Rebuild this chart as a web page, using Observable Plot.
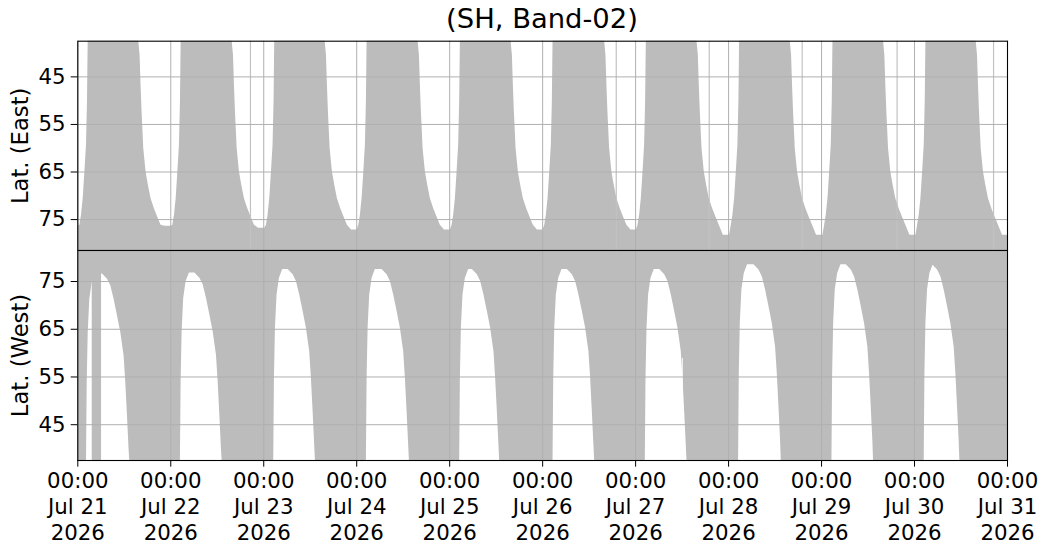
<!DOCTYPE html>
<html>
<head>
<meta charset="utf-8">
<script src="https://cdn.jsdelivr.net/npm/d3@7"></script>
<script src="https://cdn.jsdelivr.net/npm/@observablehq/plot@0.6"></script>
<style>
  body { margin: 0; background: #fff; font-family: "DejaVu Sans", sans-serif; }
  #wrap { position: relative; width: 1049px; height: 556px; overflow: hidden; }
  #title { position: absolute; left: 77px; width: 930px; top: 2.5px; text-align: center;
           font-size: 27.4px; line-height: 32px; color: #000; }
  #wrap svg { position: absolute; left: 0; overflow: visible; background: transparent; }
</style>
</head>
<body>
<div id="wrap"><div id="title">(SH, Band-02)</div></div>
<script>
// ---------------- data (hours since 2026-07-21 00:00 UTC, latitudes in degrees) ----------------
const startDay = "2026-07-21T00:00:00Z";
const latDomain = [37.5, 81.5];
const latTicks = [45, 55, 65, 75];
const dayTicks = ["2026-07-21","2026-07-22","2026-07-23","2026-07-24","2026-07-25","2026-07-26",
                  "2026-07-27","2026-07-28","2026-07-29","2026-07-30","2026-07-31"];
const xTickLabels = ["00:00\nJul 21\n2026","00:00\nJul 22\n2026","00:00\nJul 23\n2026","00:00\nJul 24\n2026",
                     "00:00\nJul 25\n2026","00:00\nJul 26\n2026","00:00\nJul 27\n2026","00:00\nJul 28\n2026",
                     "00:00\nJul 29\n2026","00:00\nJul 30\n2026","00:00\nJul 31\n2026"];

// East panel: full-coverage windows and the coverage edge in between
const eastFingerStart = [2.68, 26.68, 50.84, 74.68, 98.76, 122.68, 146.76, 170.84, 194.94, 218.94];
const eastFingerEnd   = [15.74, 39.85, 63.85, 87.85, 111.85, 136.0, 159.85, 183.92, 208.0, 231.92];
const eastDipMin      = [76.4, 76.4, 76.8, 77.2, 77.2, 77.2, 77.2, 78.3, 78.3, 78.3, 78.3];
const eastFallDt      = [0.34, 0.59, 0.85, 1.29, 1.88, 2.48, 3.17, 4.03, 4.90, 5.75, 6.8];
const eastFallLat     = [40.5, 46.8, 52.4, 60.1, 65.0, 67.8, 70.6, 72.7, 74.5, 76.2, 99];
const eastRiseDt      = [-2.58, -2.14, -1.73, -1.29, -0.85, -0.44, -0.18, 0];
const eastRiseLat     = [99, 76.2, 74.1, 70.6, 65.0, 59.4, 50.3, 37.5];
const eastSpikes      = [44.57, 139.0, 163.0, 187.0, 211.5, 236.4];

// West panel: gaps ("arches") in coverage
const westArchStart = [2.25, 26.49, 50.58, 74.5, 98.58, 122.68, 146.5, 170.58, 194.68, 218.5];
const westArchEnd   = [13.42, 37.26, 61.34, 85.6, 108.9, 133.42, 157.26, 181.6, 205.42, 227.7];
const westArchTop   = [76.6, 76.8, 77.5, 77.5, 77.5, 77.5, 77.5, 78.5, 78.5, 78.5];
const westRiseDt    = [0, 0.18, 0.44, 0.85, 1.47, 2.32];
const westRiseDrop  = [44, 22.8, 12.3, 5.3, 1.8, 0];
const westFallDt    = [-7.05, -5.75, -4.9, -4.05, -3.17, -2.32, -1.47, -1.03, -0.59, -0.18, 0];
const westFallDrop  = [0, 1.1, 2.5, 5.3, 8.8, 12.3, 17.2, 22.8, 29.9, 36.9, 44];
const westFullBlock = [[3.72, 6.13]];
const westGapLine   = [[156.06, 58.9]];

// ---------------- build tables ----------------
(function () {
const t0 = Date.parse(startDay);
const toDate = h => new Date(t0 + h * 3600000);
const H = 240;
const lo = latDomain[0], hi = latDomain[1];

const east = [];
east.push([0, eastDipMin[0]]);
eastFingerStart.forEach((s, i) => {
  const m = eastDipMin[i];
  eastRiseDt.forEach((d, j) => {
    const t = s + d;
    if (t >= 0) east.push([t, Math.min(eastRiseLat[j], m)]);
  });
  const e = eastFingerEnd[i], m2 = eastDipMin[i + 1];
  east.push([e, lo]);
  eastFallDt.forEach((d, j) => {
    const t = e + d;
    if (t <= H) east.push([t, Math.min(eastFallLat[j], m2)]);
  });
});
east.push([H, eastDipMin[eastDipMin.length - 1]]);

const west = [];
west.push([0, lo]);
westArchStart.forEach((s, i) => {
  const tp = westArchTop[i], e = westArchEnd[i];
  west.push([s, lo]);
  westRiseDt.forEach((d, j) => west.push([s + d, Math.max(lo, tp - westRiseDrop[j])]));
  westFallDt.forEach((d, j) => west.push([e + d, Math.max(lo, tp - westFallDrop[j])]));
  west.push([e, lo]);
});
west.push([H, lo]);

const dayDates = dayTicks.map(d => new Date(d + "T00:00:00Z"));
const fmtX = d => xTickLabels[dayDates.findIndex(v => +v === +d)];

const FILL = "#bcbcbc";
const GRID = "#b0b0b0";
const FS = 21.3;
const FSL = 22.7;
const common = {
  width: 1049,
  marginLeft: 77.3,
  marginRight: 42,
  style: { fontFamily: "DejaVu Sans", fontSize: FS + "px", background: "transparent", overflow: "visible", color: "#000" },
  x: { type: "utc", domain: [toDate(0), toDate(H)], axis: null }
};

const topPlot = Plot.plot({
  ...common,
  height: 250,
  marginTop: 40.7,
  marginBottom: 0,
  y: { domain: latDomain, reverse: true, axis: null },
  marks: [
    Plot.areaY(east, { x: d => toDate(d[0]), y1: () => hi, y2: d => d[1], fill: FILL, curve: "linear" }),
    Plot.ruleX(eastSpikes, { x: d => toDate(d), y1: lo, y2: hi, stroke: "#c2c2c2", strokeWidth: 1.2 }),
    Plot.gridX(dayDates, { x: d => d, stroke: GRID, strokeOpacity: 1, strokeWidth: 1 }),
    Plot.gridY(latTicks, { y: d => d, stroke: GRID, strokeOpacity: 1, strokeWidth: 1 }),
    Plot.frame({ stroke: "#000", strokeWidth: 1.1 }),
    Plot.axisY(latTicks, { tickSize: 6.6, tickPadding: 5.7, fontSize: FS, label: null }),
    Plot.text(["Lat. (East)"], { text: d => d, frameAnchor: "left", dx: -57.3, rotate: -90,
      fontSize: FSL, textAnchor: "middle", lineAnchor: "middle" })
  ]
});
topPlot.style.top = "0px";

const bottomPlot = Plot.plot({
  ...common,
  height: 306,
  marginTop: 0,
  marginBottom: 96,
  y: { domain: latDomain, axis: null },
  marks: [
    Plot.areaY(west, { x: d => toDate(d[0]), y1: () => hi, y2: d => d[1], fill: FILL, curve: "linear" }),
    Plot.rectX(westFullBlock, { x1: d => toDate(d[0]), x2: d => toDate(d[1]), y1: lo, y2: hi, fill: FILL }),
    Plot.ruleX(westGapLine, { x: d => toDate(d[0]), y1: lo, y2: d => d[1], stroke: "#fff", strokeWidth: 0.9 }),
    Plot.gridX(dayDates, { x: d => d, stroke: GRID, strokeOpacity: 1, strokeWidth: 1 }),
    Plot.gridY(latTicks, { y: d => d, stroke: GRID, strokeOpacity: 1, strokeWidth: 1 }),
    Plot.frame({ stroke: "#000", strokeWidth: 1.1 }),
    Plot.axisY(latTicks, { tickSize: 6.6, tickPadding: 5.7, fontSize: FS, label: null }),
    Plot.axisX(dayDates, { tickSize: 6.7, tickPadding: 2.3, fontSize: FS, lineHeight: 1.23,
      tickFormat: fmtX, label: null }),
    Plot.text(["Lat. (West)"], { text: d => d, frameAnchor: "left", dx: -57.3, rotate: -90,
      fontSize: FSL, textAnchor: "middle", lineAnchor: "middle" })
  ]
});
bottomPlot.style.top = "250px";

const wrap = document.getElementById("wrap");
wrap.appendChild(topPlot);
wrap.appendChild(bottomPlot);
})();
</script>
</body>
</html>
